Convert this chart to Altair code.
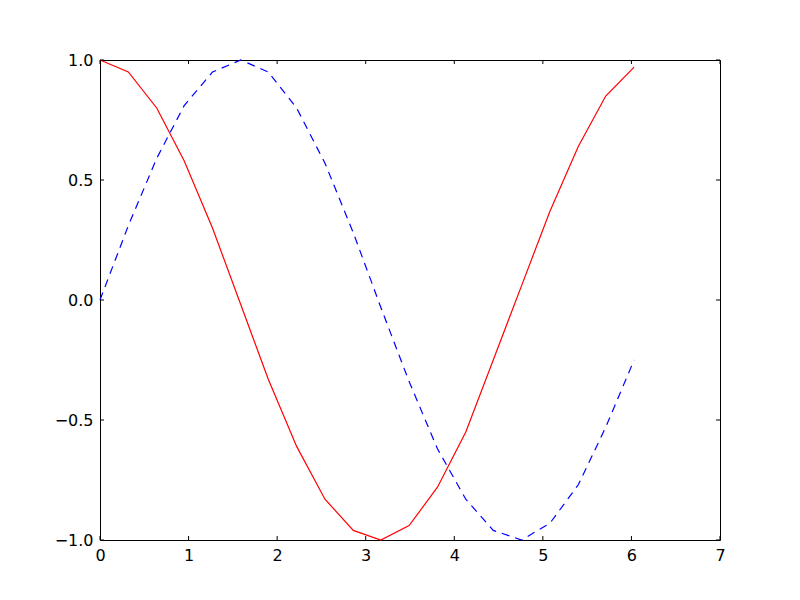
import altair as alt
import pandas as pd

x_vals = [0.00, 0.32, 0.64, 0.95, 1.27, 1.59, 1.90, 2.22, 2.54, 2.86,
          3.17, 3.49, 3.81, 4.13, 4.44, 4.76, 5.08, 5.40, 5.71, 6.03]
cos_vals = [1.00, 0.95, 0.80, 0.58, 0.30, -0.02, -0.33, -0.61, -0.83, -0.96,
            -1.00, -0.94, -0.78, -0.55, -0.25, 0.06, 0.37, 0.64, 0.85, 0.97]
sin_vals = [0.00, 0.31, 0.59, 0.81, 0.95, 1.00, 0.95, 0.80, 0.57, 0.28,
            -0.03, -0.34, -0.62, -0.83, -0.96, -1.00, -0.93, -0.77, -0.53, -0.25]
x_ticks = [0, 1, 2, 3, 4, 5, 6, 7]
y_ticks = [-1.0, -0.5, 0.0, 0.5, 1.0]

W, H = 620, 480
FONT = "DejaVu Sans"

df = pd.DataFrame({"x": x_vals, "cos": cos_vals, "sin": sin_vals})
xt = pd.DataFrame({"t": x_ticks})
yt = pd.DataFrame({"t": y_ticks})

xscale = alt.Scale(domain=[0, 7], nice=False, zero=False)
yscale = alt.Scale(domain=[-1, 1], nice=False, zero=False)

xaxis = alt.Axis(values=x_ticks, format="d", tickSize=0, labelPadding=7,
                 labelFlush=False, labelOverlap=False,
                 labelFont=FONT, labelFontSize=16, labelColor="black",
                 domain=False, grid=False, title=None)
yaxis = alt.Axis(values=y_ticks, labelExpr="replace(format(datum.value, '.1f'), '-', '\u2212')",
                 tickSize=0, labelPadding=7, labelFlush=False, labelOverlap=False,
                 labelFont=FONT, labelFontSize=16, labelColor="black",
                 domain=False, grid=False, title=None)

red = alt.Chart(df).mark_line(color="red", strokeWidth=1.2).encode(
    x=alt.X("x:Q", scale=xscale, axis=xaxis),
    y=alt.Y("cos:Q", scale=yscale, axis=yaxis),
)
blue = alt.Chart(df).mark_line(color="blue", strokeWidth=1.2, strokeDash=[8, 6]).encode(
    x=alt.X("x:Q", scale=xscale),
    y=alt.Y("sin:Q", scale=yscale),
)

tk = dict(color="black", strokeWidth=1)
xb = alt.Chart(xt).mark_rule(**tk).encode(x=alt.X("t:Q", scale=xscale), y=alt.value(H), y2=alt.value(H - 4))
xtp = alt.Chart(xt).mark_rule(**tk).encode(x=alt.X("t:Q", scale=xscale), y=alt.value(0), y2=alt.value(4))
yl = alt.Chart(yt).mark_rule(**tk).encode(y=alt.Y("t:Q", scale=yscale), x=alt.value(0), x2=alt.value(4))
yr = alt.Chart(yt).mark_rule(**tk).encode(y=alt.Y("t:Q", scale=yscale), x=alt.value(W), x2=alt.value(W - 4))

chart = alt.layer(red, blue, xb, xtp, yl, yr).properties(
    width=W, height=H,
    autosize=alt.AutoSizeParams(type="none"),
    padding={"left": 92, "top": 52, "right": 72, "bottom": 52},
    background="white",
).configure_view(stroke="black", strokeWidth=1)

chart.save("out.html", embed_options={"renderer": "svg", "actions": False})
